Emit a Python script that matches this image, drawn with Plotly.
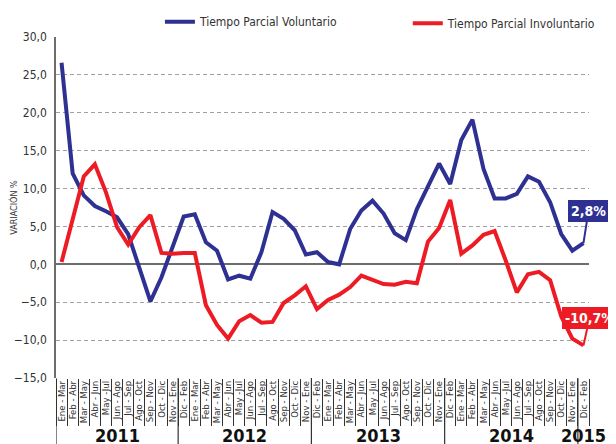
import plotly.graph_objects as go

# ---- data ----
base_months = ["Ene - Mar", "Feb - Abr", "Mar - May", "Abr - Jun", "May -Jul", "Jun - Ago",
               "Jul - Sep", "Ago - Oct", "Sep - Nov", "Oct - Dic", "Nov - Ene"]
years = ["2011", "2012", "2013", "2014", "2015"]
periods_by_year = [base_months,
                   ["Dic - Feb"] + base_months,
                   ["Dic - Feb"] + base_months,
                   ["Dic - Feb"] + base_months,
                   ["Dic - Feb"]]

voluntario = [26.6, 12.0, 9.1, 7.7, 7.0, 6.2, 4.0, -0.3, -4.9, -1.7, 2.3, 6.3,
              6.6, 2.9, 1.8, -2.0, -1.5, -1.9, 1.6, 6.9, 6.0, 4.5, 1.3, 1.6,
              0.3, 0.0, 4.7, 7.1, 8.4, 6.7, 4.1, 3.2, 7.3, 10.3, 13.3, 10.6,
              16.4, 19.1, 12.6, 8.7, 8.7, 9.3, 11.6, 10.9, 8.2, 4.0, 1.8, 2.8]
involuntario = [0.3, 5.8, 11.6, 13.2, 9.5, 4.9, 2.6, 4.9, 6.5, 1.5, 1.4, 1.5,
                1.5, -5.4, -8.0, -9.8, -7.5, -6.7, -7.7, -7.6, -5.1, -4.1, -2.9, -5.9,
                -4.7, -4.0, -3.0, -1.5, -2.1, -2.6, -2.7, -2.3, -2.5, 3.0, 4.8, 8.5,
                1.4, 2.5, 3.9, 4.4, 0.5, -3.7, -1.3, -1.0, -2.1, -6.9, -9.8, -10.7]
y_ticks = [-15, -10, -5, 0, 5, 10, 15, 20, 25, 30]
last_labels = ["2,8%", "-10,7%"]

# unique category keys, displayed with the period text only
keys, ticktext, group_bounds = [], [], []
idx = 0
for yr, per in zip(years, periods_by_year):
    start = idx
    for p in per:
        keys.append(yr + " " + p)
        ticktext.append(p)
        idx += 1
    group_bounds.append((yr, start, idx - 1))

BLUE = "#2E3192"
RED = "#ED1C24"
FONT = "Liberation Sans Narrow, DejaVu Sans Condensed, Arial Narrow, sans-serif"
TXT = "#333333"

fig = go.Figure()
fig.add_trace(go.Scatter(x=keys, y=voluntario, mode="lines", name="Tiempo Parcial Voluntario",
                         line=dict(color=BLUE, width=4), legend="legend"))
fig.add_trace(go.Scatter(x=keys, y=involuntario, mode="lines", name="Tiempo Parcial Involuntario",
                         line=dict(color=RED, width=4), legend="legend2"))

# end-value labels
fig.add_annotation(x=keys[-1], y=voluntario[-1], text="<b>" + last_labels[0] + "</b>",
                   showarrow=True, arrowhead=0, arrowwidth=2, arrowcolor=BLUE,
                   ax=5, ay=-32, bgcolor=BLUE, bordercolor=BLUE, borderpad=2,
                   font=dict(color="white", size=14, family=FONT))
fig.add_annotation(x=keys[-1], y=involuntario[-1], text="<b>" + last_labels[1] + "</b>",
                   showarrow=True, arrowhead=0, arrowwidth=2, arrowcolor=RED,
                   ax=6, ay=-27, bgcolor=RED, bordercolor=RED, borderpad=2,
                   font=dict(color="white", size=14, family=FONT))

# year group labels and dividers
for yr, s, e in group_bounds:
    fig.add_annotation(x=(s + e) / 2, y=-0.168, xref="x", yref="paper", text="<b>" + yr + "</b>",
                       showarrow=False, yanchor="middle",
                       font=dict(size=18, color="#111111", family=FONT))
    fig.add_shape(type="line", x0=s - 0.5, x1=s - 0.5, xref="x", y0=0, y1=-0.2, yref="paper",
                  line=dict(color="#333333", width=1.2))

# the page body has an 8px margin, so the figure is sized 8px smaller and its margins shifted
fig.update_layout(
    width=608, height=436,
    margin=dict(l=48, r=27, t=29, b=66, autoexpand=False),
    paper_bgcolor="white", plot_bgcolor="white",
    separators=",.",
    font=dict(family=FONT, color=TXT),
    showlegend=True,
    legend=dict(orientation="h", x=0.195, y=1.045, xanchor="left", yanchor="middle",
                font=dict(size=12, color=TXT, family=FONT), bgcolor="rgba(0,0,0,0)"),
    legend2=dict(orientation="h", x=0.66, y=1.04, xanchor="left", yanchor="middle",
                 font=dict(size=12, color=TXT, family=FONT), bgcolor="rgba(0,0,0,0)"),
    xaxis=dict(
        type="category",
        categoryorder="array", categoryarray=keys,
        range=[-0.5, len(keys) - 0.5],
        tickmode="array", tickvals=keys, ticktext=ticktext,
        showgrid=False,
        tickangle=-90,
        tickfont=dict(size=9.5, color=TXT, family=FONT),
        ticks="outside", tickson="boundaries", ticklen=47, tickcolor="#333333", tickwidth=1,
        showline=False, zeroline=False, automargin=False,
    ),
    yaxis=dict(
        range=[-15, 30],
        tickvals=y_ticks, tickformat=".1f",
        showgrid=True, gridcolor="#A0A0A0", griddash="4px,3px", gridwidth=1,
        zeroline=True, zerolinecolor="#6D6D6D", zerolinewidth=1.5,
        showline=True, linecolor="#6D6D6D", linewidth=1.5,
        ticks="", ticklabelstandoff=5,
        tickfont=dict(size=12, color=TXT, family=FONT), automargin=False,
        title=dict(text="VARIACIÓN %", font=dict(size=9, color=TXT, family=FONT), standoff=9),
    ),
)

fig.write_html("out.html")
